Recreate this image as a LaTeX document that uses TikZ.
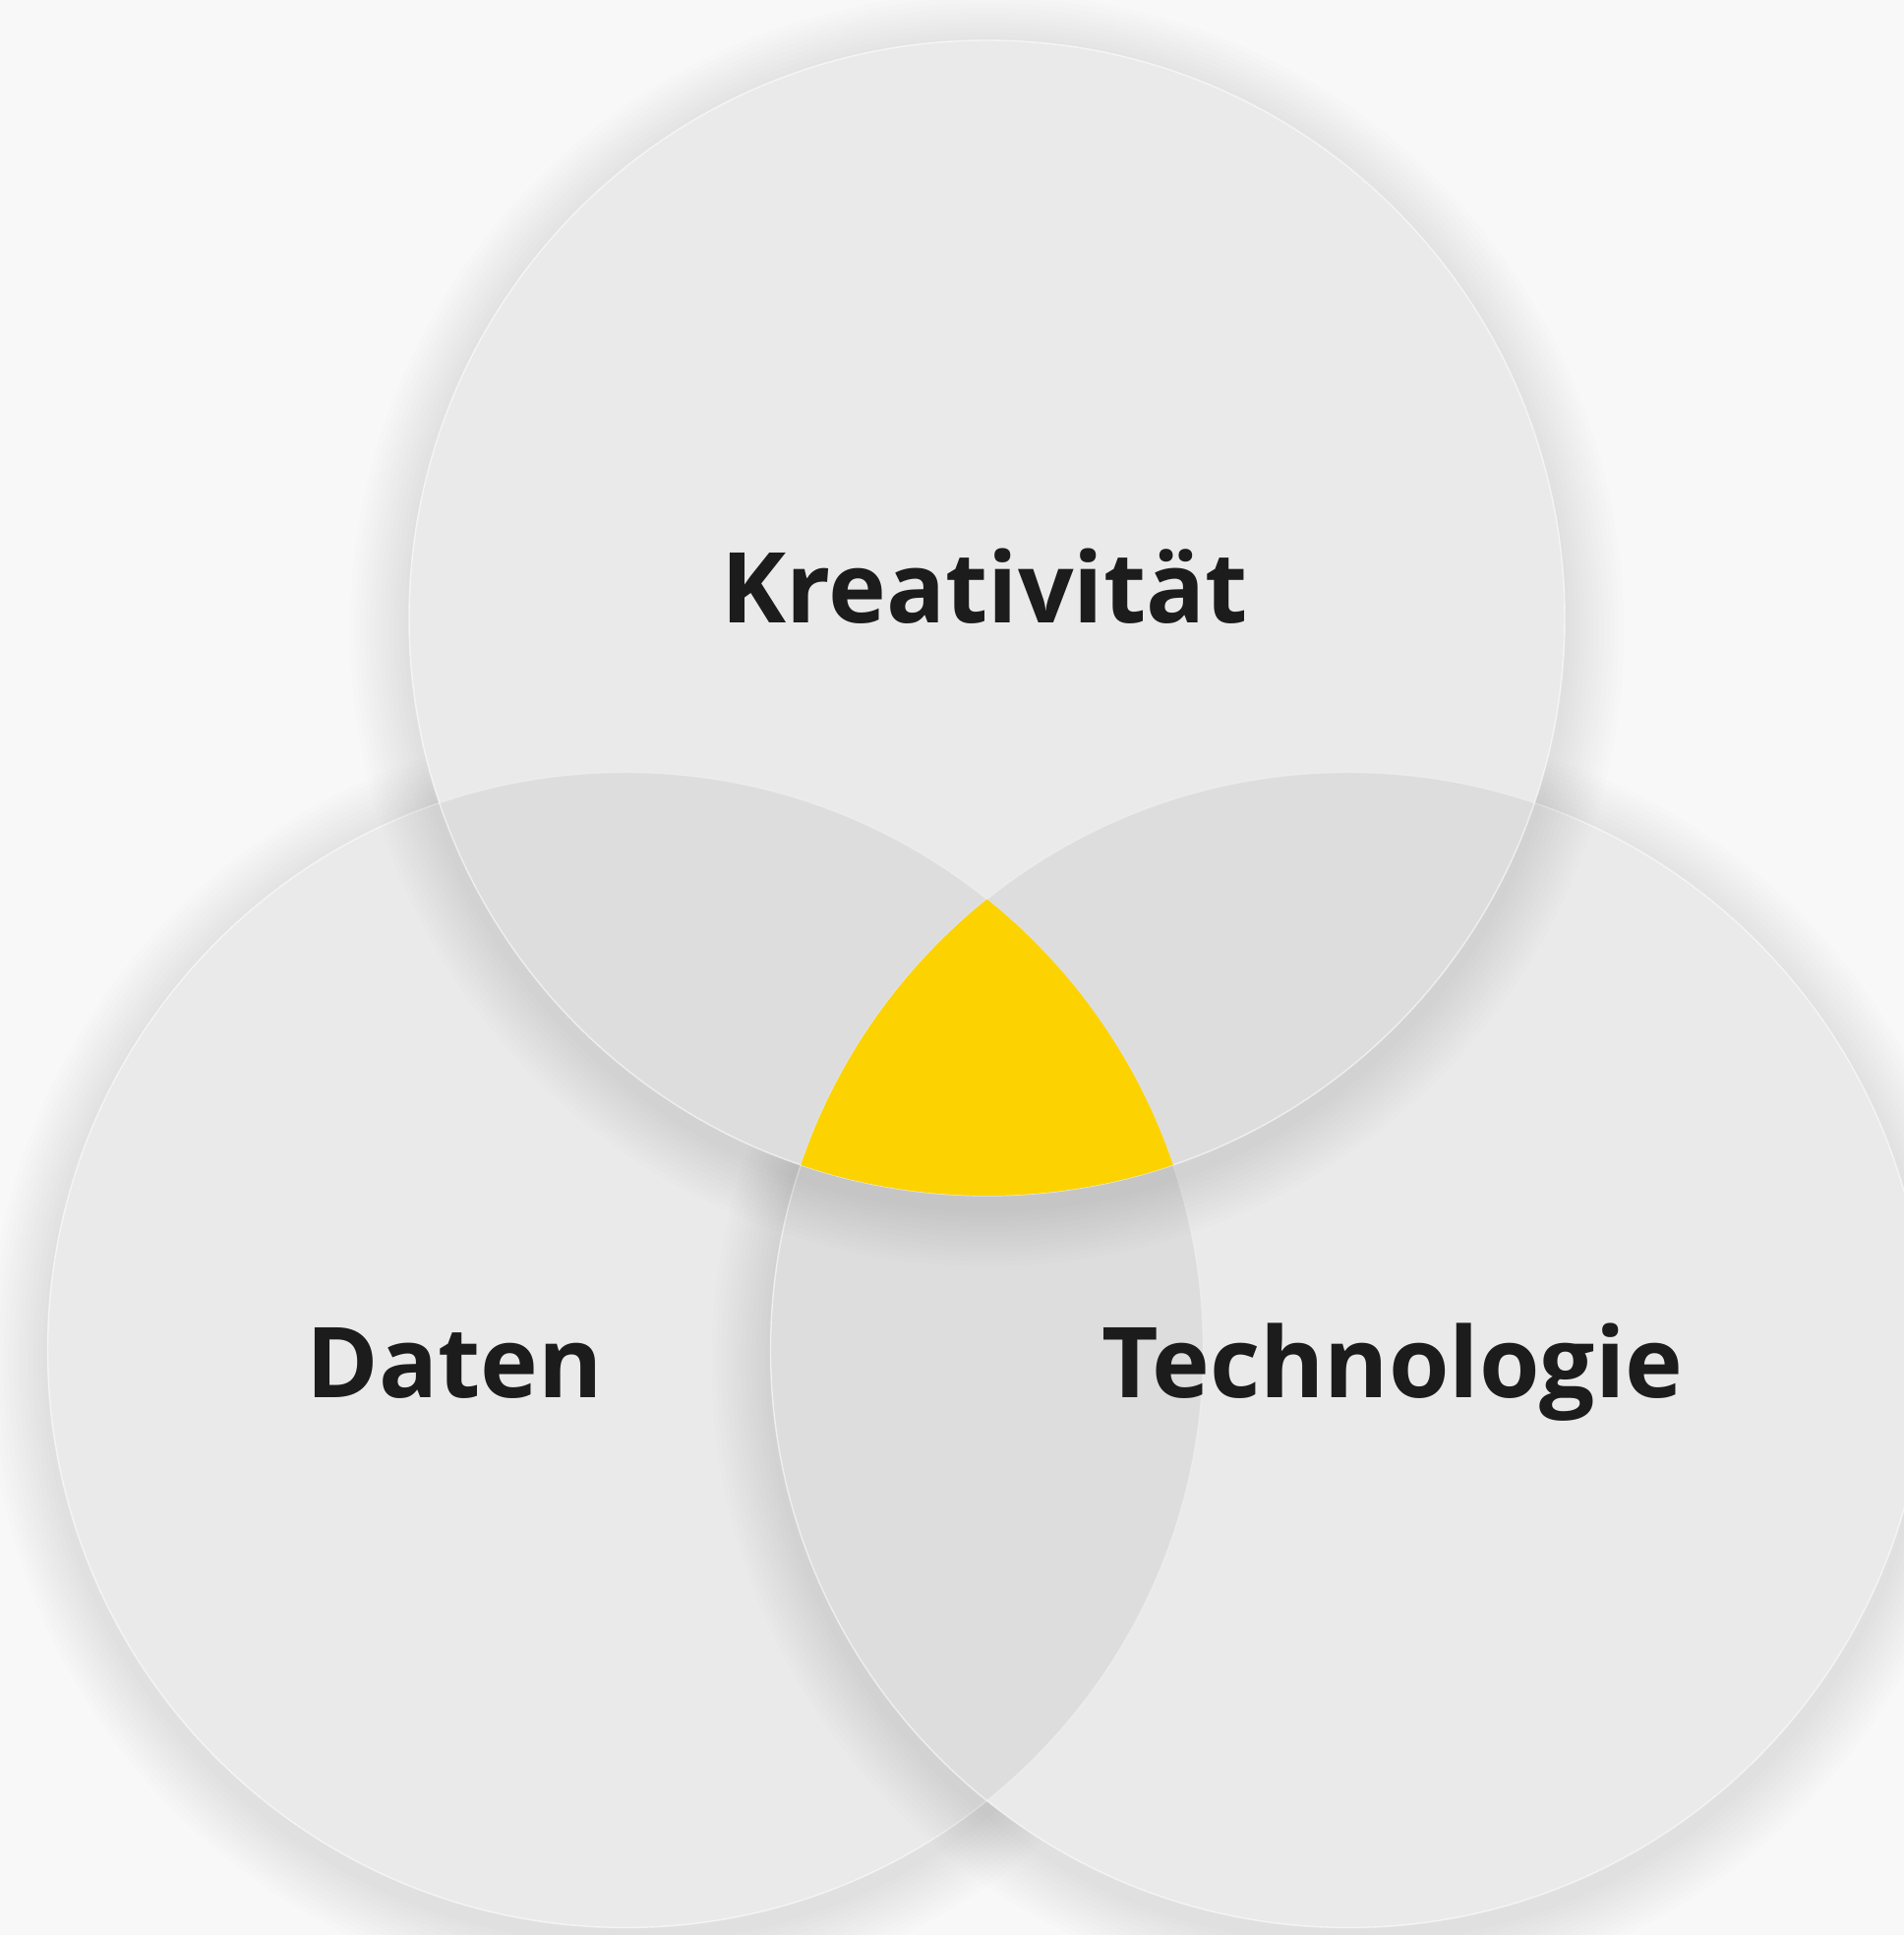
\documentclass[tikz,border=0pt]{standalone}
\usepackage{fontspec}
\setmainfont{Open Sans}

\definecolor{grund}{HTML}{F8F8F8}
\definecolor{gelb}{HTML}{FCD300}
\definecolor{schrift}{HTML}{1C1C1C}
\newcommand\kreisradius{587.5}

\begin{document}
\begin{tikzpicture}[x=0.01cm, y=0.01cm,
    kreis/.style={fill=black, fill opacity=0.055, draw=white, draw opacity=0.6, line width=0.4pt},
    schatten/.style={fill=black, opacity=0.007},
    titel/.style={font=\bfseries\fontsize{28.3}{34}\selectfont, text=schrift, anchor=base, inner sep=0pt}]

    % background
    \fill[grund] (0,0) rectangle (1936,1968);
    \useasboundingbox (0,0) rectangle (1936,1968);
    \clip (0,0) rectangle (1936,1968);

    % centres
    \coordinate (daten) at (636,595);
    \coordinate (technik) at (1371,595);
    \coordinate (kreativ) at (1003.5,1339.5);

    % lower left circle
    \begin{scope}[even odd rule]
        \clip (-100,-100) rectangle (2100,2100) (daten) circle [radius=\kreisradius];
        \clip (-100,-100) rectangle (2100,2100) (technik) circle [radius=\kreisradius];
        \clip (-100,-100) rectangle (2100,2100) (kreativ) circle [radius=\kreisradius];
        \foreach \k in {1,...,12}
            \fill[schatten] ([yshift=-0.12cm]daten) circle [radius=\kreisradius+5*\k];
    \end{scope}
    \path[kreis] (daten) circle [radius=\kreisradius];

    % lower right circle
    \begin{scope}[even odd rule]
        \clip (-100,-100) rectangle (2100,2100) (technik) circle [radius=\kreisradius];
        \clip (-100,-100) rectangle (2100,2100) (kreativ) circle [radius=\kreisradius];
        \foreach \k in {1,...,12}
            \fill[schatten] ([yshift=-0.12cm]technik) circle [radius=\kreisradius+5*\k];
    \end{scope}
    \path[kreis] (technik) circle [radius=\kreisradius];

    % top circle
    \begin{scope}[even odd rule]
        \clip (-100,-100) rectangle (2100,2100) (kreativ) circle [radius=\kreisradius];
        \foreach \k in {1,...,12}
            \fill[schatten] ([yshift=-0.12cm]kreativ) circle [radius=\kreisradius+5*\k];
    \end{scope}
    \path[kreis] (kreativ) circle [radius=\kreisradius];

    % common part
    \begin{scope}
        \clip (daten) circle [radius=\kreisradius];
        \clip (technik) circle [radius=\kreisradius];
        \fill[gelb] (kreativ) circle [radius=\kreisradius];
    \end{scope}

    % labels
    \node[titel] (lab-kreativ) at (1001,1334) {Kreativität};
    \node[titel] (lab-daten) at (462,546) {Daten};
    \node[titel] (lab-technik) at (1416,546) {Technologie};
\end{tikzpicture}
\end{document}
